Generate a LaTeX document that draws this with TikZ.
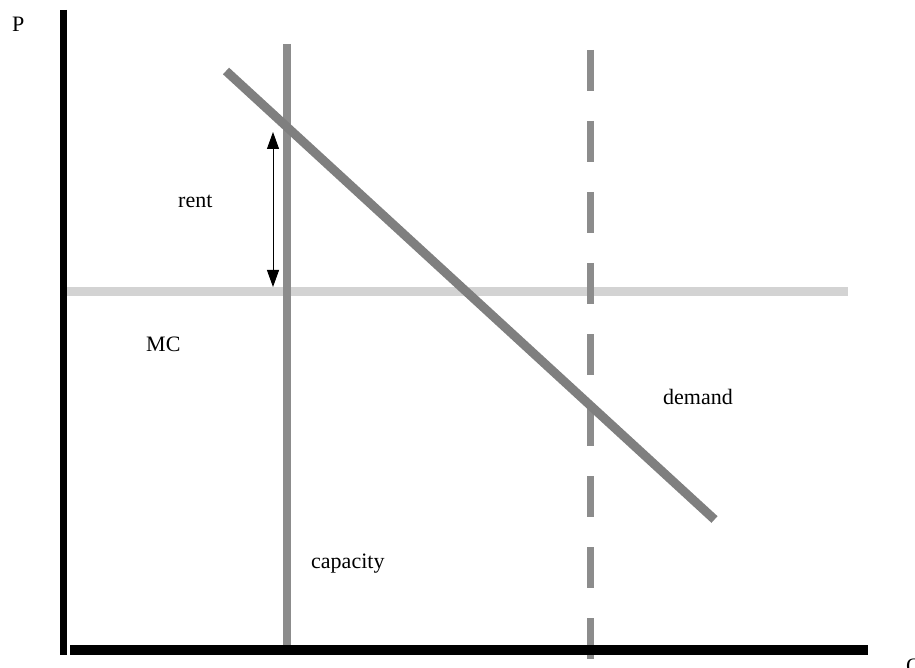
\documentclass[tikz,border=0pt]{standalone}
\usepackage{fontspec}
\setmainfont{Liberation Serif}
\usetikzlibrary{arrows.meta}
\definecolor{demandgray}{HTML}{7F7F7F}
\definecolor{capgray}{HTML}{8C8C8C}
\definecolor{mcgray}{HTML}{D3D3D3}
\tikzset{
  axisline/.style={draw=black, line width=#1},
  demandline/.style={draw=demandgray, line width=9pt},
  capline/.style={draw=capgray, line width=8pt},
  dashline/.style={draw=capgray, line width=7pt, dash pattern=on 41pt off 30pt},
  mcline/.style={draw=mcgray, line width=9pt},
  rentarrow/.style={draw=black, line width=1pt, {Triangle[width=12pt,length=17pt]}-{Triangle[width=12pt,length=17pt]}},
  lbl/.style={anchor=base west, inner sep=0pt, font=\fontsize{22}{26}\selectfont}
}
\begin{document}
\begin{tikzpicture}[x=1pt, y=-1pt]
\useasboundingbox (0,0) rectangle (915,668);
% coordinates
\coordinate (ytop) at (63.5,10);
\coordinate (ybot) at (63.5,655);
\coordinate (xl) at (70,650);
\coordinate (xr) at (868,650);
\coordinate (mcl) at (67,291.5);
\coordinate (mcr) at (848,291.5);
\coordinate (captop) at (287,44);
\coordinate (capbot) at (287,645);
\coordinate (dtop) at (590,50);
\coordinate (dbot) at (590,662);
\coordinate (demtop) at (226,71);
\coordinate (dembot) at (714.5,519.5);
\coordinate (rtop) at (273,132);
\coordinate (rbot) at (273,287);
% lines
\draw[mcline] (mcl) -- (mcr);
\draw[capline] (captop) -- (capbot);
\draw[dashline] (dtop) -- (dbot);
\draw[demandline] (demtop) -- (dembot);
\draw[axisline=7pt] (ytop) -- (ybot);
\draw[axisline=10pt] (xl) -- (xr);
\draw[rentarrow] (rtop) -- (rbot);
% labels
\node[lbl] (p) at (12,32) {P};
\node[lbl] (q) at (906,673) {Q};
\node[lbl] (rent) at (178,208) {rent};
\node[lbl] (mc) at (146,351) {MC};
\node[lbl] (demand) at (663,404) {demand};
\node[lbl] (capacity) at (311,568) {capacity};
\end{tikzpicture}
\end{document}
